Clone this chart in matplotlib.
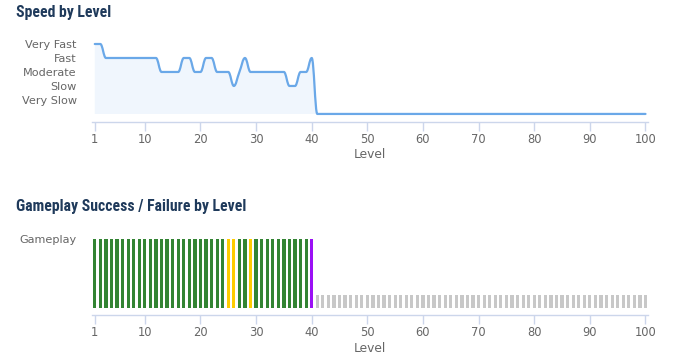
import numpy as np
import matplotlib
matplotlib.use("Agg")
import matplotlib.pyplot as plt
from matplotlib.path import Path
from matplotlib.patches import PathPatch

# ---------------- data ----------------
levels = list(range(1, 101))
speed_labels = ["Very Slow", "Slow", "Moderate", "Fast", "Very Fast"]
# speed per level (5=Very Fast ... 1=Very Slow, 0=not played)
speed_played = [5, 5, 4, 4, 4, 4, 4, 4, 4, 4,
                4, 4, 3, 3, 3, 3, 4, 4, 3, 3,
                4, 4, 3, 3, 3, 2, 3, 4, 3, 3,
                3, 3, 3, 3, 3, 2, 2, 3, 3, 4]
speed = speed_played + [0] * 60

# gameplay outcome per level
outcome_played = (["success"] * 24 + ["partial", "partial", "success", "success", "partial"]
                  + ["success"] * 10 + ["failure"])
outcome = outcome_played + ["unplayed"] * 60
outcome_value = {"success": 1.0, "partial": 1.0, "failure": 1.0, "unplayed": 0.2}
outcome_color = {"success": "#338433", "partial": "#ffcc00",
                 "failure": "#9b10f5", "unplayed": "#c8c8c8"}
gameplay_label = ["Gameplay"]

x_ticks = [1, 10, 20, 30, 40, 50, 60, 70, 80, 90, 100]

# ---------------- style ----------------
W, H = 685, 360
fig = plt.figure(figsize=(W / 100, H / 100), dpi=100)
plt.rcParams['font.family'] = ['DejaVu Sans']

LABEL_C = "#666666"
AXIS_C = "#ccd6eb"
TITLE_C = "#1f3a5b"
LINE_C = "#6aa8e8"
FILL_C = "#f0f6fd"

def px_axes(left, top, right, bottom):
    return fig.add_axes([left / W, 1 - bottom / H, (right - left) / W, (bottom - top) / H])

XL = (0.5, 100.45)

def style_x(ax):
    ax.set_xlim(*XL)
    ax.set_xticks(x_ticks)
    ax.set_xticklabels([str(t) for t in x_ticks], color=LABEL_C, fontsize=8.3)
    ax.tick_params(axis='x', direction='out', length=6.5, width=1, color=AXIS_C, pad=1.5)
    ax.tick_params(axis='y', length=0, pad=11)
    for s in ("top", "right", "left"):
        ax.spines[s].set_visible(False)
    ax.spines["bottom"].set_color(AXIS_C)
    ax.spines["bottom"].set_linewidth(1)
    ax.set_xlabel("Level", color=LABEL_C, fontsize=8.8, labelpad=2)

def spline_path(xs, ys, smoothing=1.5):
    """Highcharts-style cubic Bezier spline through data points."""
    n = len(xs)
    denom = smoothing + 1
    lc = [None] * n
    rc = [None] * n
    for i in range(n):
        if i == 0 or i == n - 1:
            lc[i] = (xs[i], ys[i]); rc[i] = (xs[i], ys[i]); continue
        lx, ly = xs[i - 1], ys[i - 1]
        px, py = xs[i], ys[i]
        nx, ny = xs[i + 1], ys[i + 1]
        lcx = (smoothing * px + lx) / denom
        lcy = (smoothing * py + ly) / denom
        rcx = (smoothing * px + nx) / denom
        rcy = (smoothing * py + ny) / denom
        if rcx != lcx:
            corr = ((rcy - lcy) * (rcx - px)) / (rcx - lcx) + py - rcy
            lcy += corr; rcy += corr
        if lcy > ly and lcy > py:
            lcy = max(ly, py); rcy = 2 * py - lcy
        elif lcy < ly and lcy < py:
            lcy = min(ly, py); rcy = 2 * py - lcy
        if rcy > ny and rcy > py:
            rcy = max(ny, py); lcy = 2 * py - rcy
        elif rcy < ny and rcy < py:
            rcy = min(ny, py); lcy = 2 * py - rcy
        lc[i] = (lcx, lcy); rc[i] = (rcx, rcy)
    verts = [(xs[0], ys[0])]
    codes = [Path.MOVETO]
    for i in range(1, n):
        verts += [rc[i - 1], lc[i], (xs[i], ys[i])]
        codes += [Path.CURVE4] * 3
    return verts, codes

# ---------------- chart 1: speed ----------------
ax1 = px_axes(92, 39.8, 648, 121.5)
verts, codes = spline_path(levels, speed)
fill_verts = verts + [(levels[-1], 0), (levels[0], 0), (levels[0], speed[0])]
fill_codes = codes + [Path.LINETO, Path.LINETO, Path.CLOSEPOLY]
ax1.add_patch(PathPatch(Path(fill_verts, fill_codes), facecolor=FILL_C, edgecolor="none", zorder=1))
ax1.add_patch(PathPatch(Path(verts, codes), facecolor="none", edgecolor=LINE_C, lw=1.6, zorder=2,
                        capstyle="round", joinstyle="round"))
ax1.set_ylim(-0.54, 5.3)
ax1.set_yticks(range(1, 6))
ax1.set_yticklabels(speed_labels, color=LABEL_C, fontsize=8.1)
style_x(ax1)

# ---------------- chart 2: gameplay ----------------
ax2 = px_axes(92, 235.5, 648, 315.3)
vals = [outcome_value[o] for o in outcome]
cols = [outcome_color[o] for o in outcome]
ax2.bar(levels, vals, width=0.58, color=cols, linewidth=0, zorder=2)
ax2.set_ylim(-0.098, 1.05)
ax2.set_yticks([1])
ax2.set_yticklabels(gameplay_label, color=LABEL_C, fontsize=8.1)
style_x(ax2)

# ---------------- titles ----------------
title_font = dict(family=["Roboto Condensed", "Roboto"], fontweight="bold", fontsize=11.3, color=TITLE_C)
fig.text(16 / W, 1 - 12 / H, "Speed by Level", va="center", ha="left", **title_font)
fig.text(16 / W, 1 - 207 / H, "Gameplay Success / Failure by Level", va="center", ha="left", **title_font)

fig.savefig("out.png", dpi=100)
